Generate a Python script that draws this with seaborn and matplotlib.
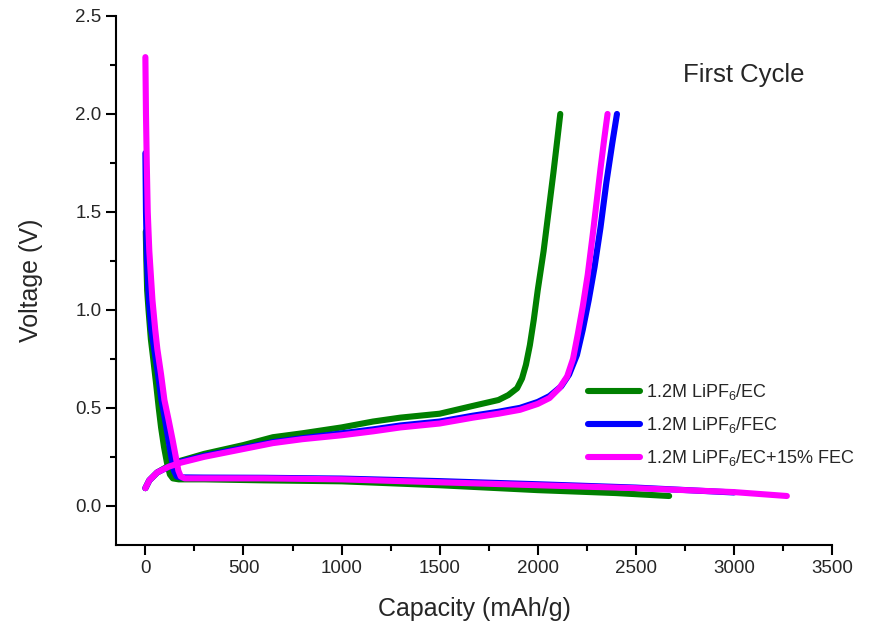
import numpy as np
import pandas as pd
import matplotlib
matplotlib.use('Agg')
import matplotlib.pyplot as plt
from matplotlib.ticker import MultipleLocator
import seaborn as sns

sns.set_style('ticks')
plt.rcParams['font.family'] = ['Liberation Sans', 'DejaVu Sans']
plt.rcParams['mathtext.fontset'] = 'custom'
plt.rcParams['mathtext.rm'] = 'Liberation Sans'
plt.rcParams['mathtext.default'] = 'regular'

# sample labels
labels = ['1.2M LiPF$_6$/EC', '1.2M LiPF$_6$/FEC', '1.2M LiPF$_6$/EC+15% FEC']
colors = ['#008000', '#0000ff', '#ff00ff']

# discharge (lithiation) curves
ec_dis_cap = [2, 5, 9, 16, 28, 40, 55, 68, 80, 95, 110, 125, 140, 170, 300, 600, 1000, 1500, 2000, 2400, 2670]
ec_dis_v = [1.4, 1.25, 1.1, 1.0, 0.85, 0.75, 0.62, 0.5, 0.4, 0.3, 0.22, 0.16, 0.14, 0.135, 0.135, 0.13, 0.125, 0.105, 0.08, 0.065, 0.05]
fec_dis_cap = [0, 3, 8, 18, 30, 45, 65, 82, 100, 117, 132, 145, 160, 180, 300, 600, 1000, 1500, 2000, 2500, 3000]
fec_dis_v = [1.8, 1.5, 1.25, 1.05, 0.9, 0.8, 0.67, 0.54, 0.44, 0.34, 0.25, 0.18, 0.15, 0.145, 0.144, 0.143, 0.139, 0.126, 0.11, 0.093, 0.068]
mix_dis_cap = [0, 3, 7, 12, 20, 36, 50, 61, 80, 97, 118, 138, 155, 168, 180, 200, 300, 600, 1000, 1500, 2000, 2500, 3000, 3270]
mix_dis_v = [2.29, 2.0, 1.75, 1.5, 1.3, 1.05, 0.9, 0.8, 0.67, 0.54, 0.44, 0.34, 0.25, 0.18, 0.15, 0.14, 0.14, 0.14, 0.135, 0.12, 0.105, 0.09, 0.07, 0.05]

# charge (delithiation) curves
ec_ch_cap = [0, 20, 60, 120, 180, 300, 500, 650, 800, 1000, 1160, 1300, 1500, 1670, 1800, 1850, 1895, 1920, 1940, 1960, 1980, 2000, 2030, 2055, 2080, 2100, 2115]
ec_ch_v = [0.09, 0.13, 0.17, 0.205, 0.23, 0.265, 0.31, 0.35, 0.37, 0.4, 0.43, 0.45, 0.47, 0.51, 0.54, 0.565, 0.6, 0.65, 0.72, 0.82, 0.95, 1.1, 1.3, 1.5, 1.7, 1.87, 2.0]
fec_ch_cap = [0, 20, 60, 120, 180, 300, 500, 650, 800, 1000, 1160, 1300, 1500, 1670, 1800, 1910, 2000, 2060, 2120, 2160, 2200, 2230, 2260, 2290, 2320, 2350, 2380, 2404]
fec_ch_v = [0.09, 0.13, 0.17, 0.2, 0.225, 0.255, 0.295, 0.325, 0.345, 0.37, 0.39, 0.41, 0.43, 0.46, 0.48, 0.5, 0.53, 0.56, 0.61, 0.67, 0.77, 0.9, 1.05, 1.22, 1.42, 1.65, 1.85, 2.0]
mix_ch_cap = [0, 20, 60, 120, 180, 300, 500, 650, 800, 1000, 1160, 1300, 1500, 1670, 1800, 1910, 2000, 2060, 2110, 2150, 2180, 2205, 2230, 2255, 2280, 2300, 2320, 2340, 2356]
mix_ch_v = [0.09, 0.13, 0.17, 0.2, 0.22, 0.25, 0.29, 0.32, 0.34, 0.36, 0.38, 0.4, 0.42, 0.45, 0.47, 0.49, 0.52, 0.55, 0.6, 0.66, 0.75, 0.88, 1.02, 1.18, 1.38, 1.55, 1.72, 1.88, 2.0]

curves = [
    (labels[0], 'dis', ec_dis_cap, ec_dis_v),
    (labels[0], 'ch', ec_ch_cap, ec_ch_v),
    (labels[1], 'dis', fec_dis_cap, fec_dis_v),
    (labels[1], 'ch', fec_ch_cap, fec_ch_v),
    (labels[2], 'dis', mix_dis_cap, mix_dis_v),
    (labels[2], 'ch', mix_ch_cap, mix_ch_v),
]
frames = []
for lab, step, cap, v in curves:
    frames.append(pd.DataFrame({'cap': cap, 'v': v, 'sample': lab, 'step': step}))
df = pd.concat(frames, ignore_index=True)

fig = plt.figure(figsize=(8.92, 6.34), dpi=100)
ax = fig.add_axes([0.130, 0.1404, 0.8027, 0.8344])

sns.lineplot(data=df, x='cap', y='v', hue='sample', units='step', estimator=None,
             sort=False, hue_order=labels, palette=colors, linewidth=4.4,
             solid_capstyle='round', solid_joinstyle='round', ax=ax)

ax.set_xlim(-150, 3500)
ax.set_ylim(-0.2, 2.5)
ax.xaxis.set_major_locator(MultipleLocator(500))
ax.xaxis.set_minor_locator(MultipleLocator(250))
ax.yaxis.set_major_locator(MultipleLocator(0.5))
ax.yaxis.set_minor_locator(MultipleLocator(0.25))
ax.tick_params(which='major', direction='out', length=7, width=1.5, labelsize=13.5, color='black')
ax.tick_params(which='minor', direction='out', length=4, width=1.5, color='black')
for s in ['top', 'right']:
    ax.spines[s].set_visible(False)
for s in ['left', 'bottom']:
    ax.spines[s].set_linewidth(1.5)
    ax.spines[s].set_color('black')

ax.set_xlabel('Capacity (mAh/g)', fontsize=18, labelpad=15)
ax.set_ylabel('Voltage (V)', fontsize=18, labelpad=23)
ax.text(0.792, 0.888, 'First Cycle', transform=ax.transAxes, fontsize=18.5,
        ha='left', va='center')

ax.legend(loc='center left', bbox_to_anchor=(0.659, 0.227), frameon=False,
          fontsize=13, handlelength=2.9, handletextpad=0.33, labelspacing=0.72,
          borderpad=0, borderaxespad=0)

fig.savefig('out.png', dpi=100)
